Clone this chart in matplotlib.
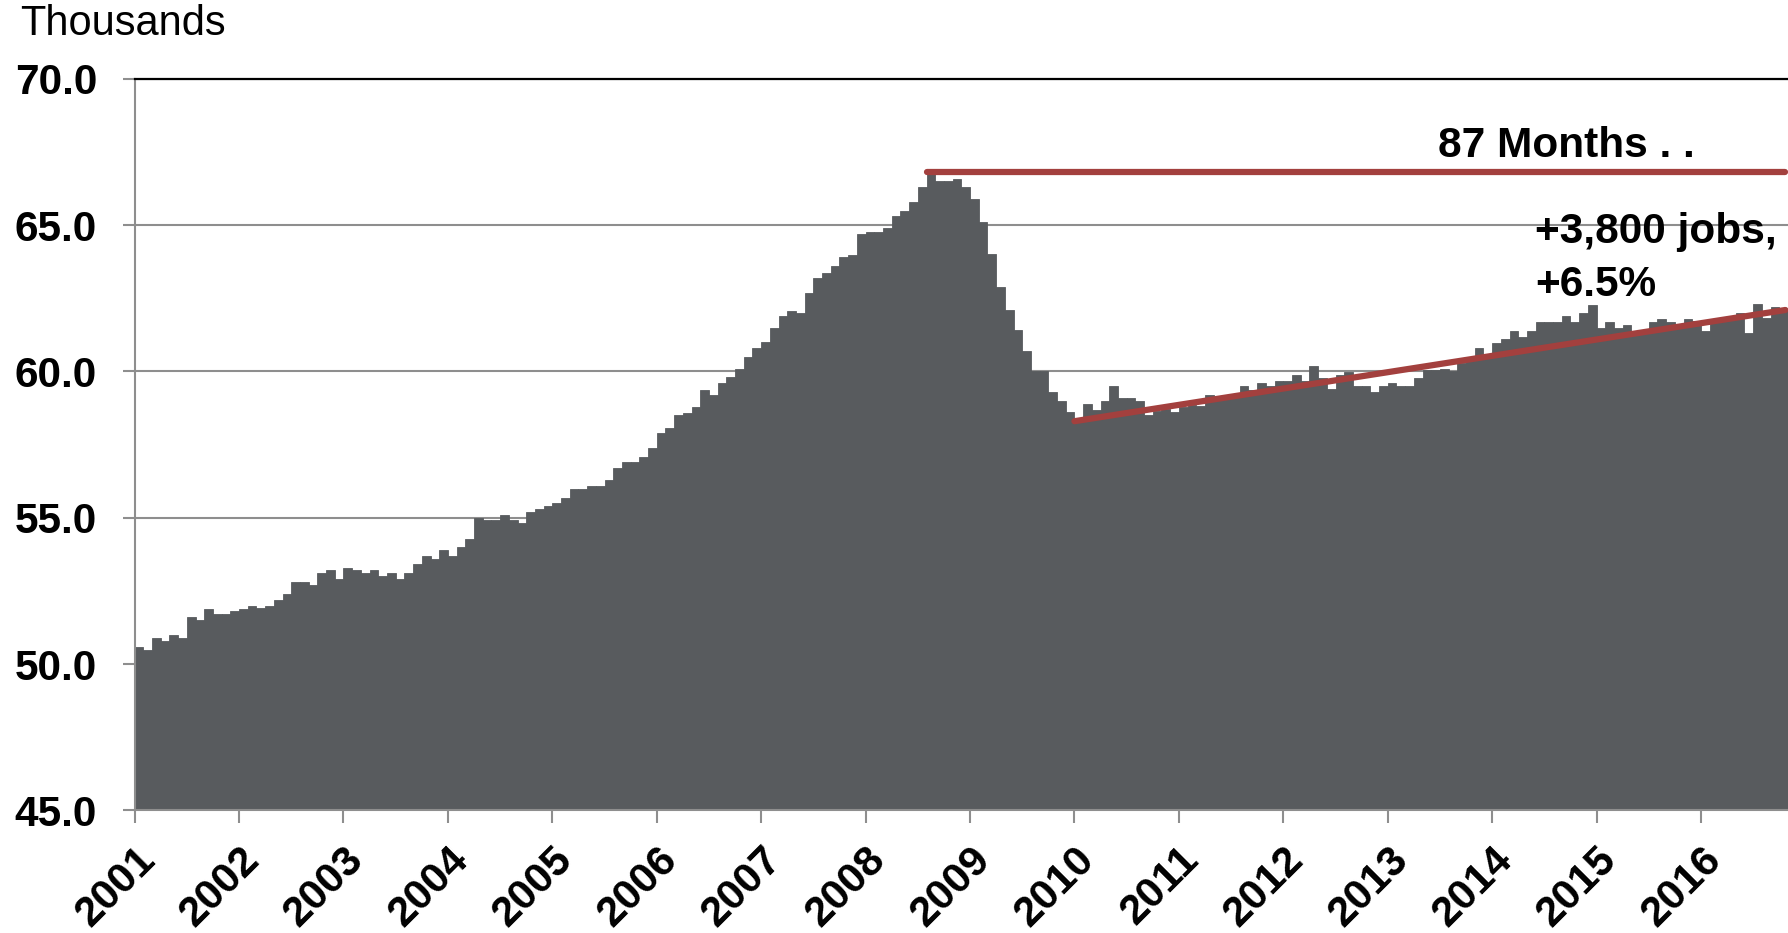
import matplotlib
matplotlib.use('Agg')
import matplotlib.pyplot as plt
import numpy as np

plt.rcParams['font.family'] = ['Liberation Sans', 'DejaVu Sans']

# ---- data (thousands of jobs, monthly, Jan 2001 - Oct 2016) ----
year_labels = [str(y) for y in range(2001, 2017)]
v2001 = [50.59, 50.50, 50.89, 50.80, 51.00, 50.90, 51.62, 51.50, 51.90, 51.71, 51.71, 51.80]
v2002 = [51.90, 51.99, 51.91, 51.99, 52.20, 52.40, 52.80, 52.80, 52.71, 53.10, 53.20, 52.90]
v2003 = [53.30, 53.21, 53.11, 53.20, 53.01, 53.10, 52.90, 53.10, 53.41, 53.70, 53.60, 53.90]
v2004 = [53.69, 53.99, 54.28, 54.98, 54.91, 54.91, 55.09, 54.91, 54.81, 55.19, 55.30, 55.40]
v2005 = [55.50, 55.69, 55.99, 55.99, 56.08, 56.08, 56.29, 56.69, 56.89, 56.89, 57.08, 57.38]
v2006 = [57.88, 58.08, 58.51, 58.59, 58.79, 59.38, 59.19, 59.59, 59.80, 60.10, 60.49, 60.79]
v2007 = [60.99, 61.49, 61.89, 62.08, 61.99, 62.69, 63.18, 63.38, 63.59, 63.90, 63.99, 64.68]
v2008 = [64.77, 64.77, 64.89, 65.30, 65.49, 65.79, 66.29, 66.78, 66.49, 66.49, 66.58, 66.29]
v2009 = [65.89, 65.09, 64.00, 62.89, 62.10, 61.40, 60.71, 60.01, 60.00, 59.31, 59.00, 58.61]
v2010 = [58.29, 58.90, 58.69, 59.00, 59.49, 59.09, 59.09, 59.00, 58.52, 58.65, 58.70, 58.61]
v2011 = [58.80, 58.85, 58.82, 59.18, 59.09, 59.18, 59.18, 59.49, 59.37, 59.60, 59.49, 59.69]
v2012 = [59.69, 59.88, 59.68, 60.17, 59.79, 59.39, 59.88, 59.98, 59.49, 59.49, 59.30, 59.49]
v2013 = [59.59, 59.49, 59.49, 59.79, 60.05, 60.05, 60.08, 60.02, 60.30, 60.48, 60.79, 60.59]
v2014 = [60.98, 61.10, 61.38, 61.19, 61.38, 61.68, 61.68, 61.68, 61.88, 61.68, 61.98, 62.28]
v2015 = [61.47, 61.68, 61.49, 61.58, 61.38, 61.33, 61.68, 61.78, 61.68, 61.53, 61.78, 61.72]
v2016 = [61.39, 61.78, 61.78, 61.78, 61.99, 61.30, 62.29, 61.82, 62.19, 62.10]

values = (v2001 + v2002 + v2003 + v2004 + v2005 + v2006 + v2007 + v2008 +
          v2009 + v2010 + v2011 + v2012 + v2013 + v2014 + v2015 + v2016)

peak_level = 66.8          # pre-recession peak (red horizontal)
trend_start_month = 108    # Jan 2010
trend_start_value = 58.3
trend_end_value = 62.1
yticks = [45.0, 50.0, 55.0, 60.0, 65.0, 70.0]

bar_color = '#585b5e'
red = '#a3403e'
grid_color = '#8e8e8e'

# ---- figure ----
fig = plt.figure(figsize=(17.88, 9.33), dpi=100)
ax = fig.add_axes([0.0753, 0.1313, 0.9247, 0.7843])

x = np.arange(len(values))
ax.bar(x, values, width=1.0, align='edge', color=bar_color,
       edgecolor=bar_color, linewidth=0.6, zorder=2)

ax.set_xlim(0, len(values))
ax.set_ylim(45, 70)

# grid and spines
ax.set_yticks(yticks)
ax.set_yticklabels([f'{v:.1f}' for v in yticks], fontsize=30.5, fontweight='bold')
ax.yaxis.grid(True, color=grid_color, linewidth=1.5, zorder=0)
ax.set_axisbelow(True)
ax.spines['right'].set_visible(False)
ax.spines['top'].set_color('black')
ax.spines['top'].set_linewidth(1.6)
for s in ['left', 'bottom']:
    ax.spines[s].set_color(grid_color)
    ax.spines[s].set_linewidth(1.5)

ax.set_xticks(np.arange(0, len(values), 12))
ax.set_xticklabels(year_labels, fontsize=30.5, fontweight='bold',
                   rotation=45, ha='right', va='top', rotation_mode='anchor')
ax.tick_params(axis='x', length=9, width=1.5, color=grid_color, pad=12)
ax.tick_params(axis='y', length=9, width=1.5, color=grid_color, pad=18)

# red reference lines
peak_idx = int(np.argmax(values))
ax.plot([peak_idx, len(values) - 0.3], [peak_level, peak_level], color=red,
        lw=4.5, solid_capstyle='round', zorder=4, clip_on=False)
ax.plot([trend_start_month, len(values) - 0.3], [trend_start_value, trend_end_value],
        color=red, lw=4.5, solid_capstyle='round', zorder=4, clip_on=False)

# annotations
ax.text(164.5, 67.34, '87 Months . .', fontsize=30.5, fontweight='bold',
        ha='center', va='baseline', zorder=5)
ax.text(160.9, 64.38, '+3,800 jobs,', fontsize=30.5, fontweight='bold',
        ha='left', va='baseline', zorder=5)
ax.text(160.9, 62.58, '+6.5%', fontsize=30.5, fontweight='bold',
        ha='left', va='baseline', zorder=5)

fig.text(0.0112, 1 - 35 / 933, 'Thousands', fontsize=30, ha='left', va='baseline')

fig.savefig('out.png', dpi=100)
